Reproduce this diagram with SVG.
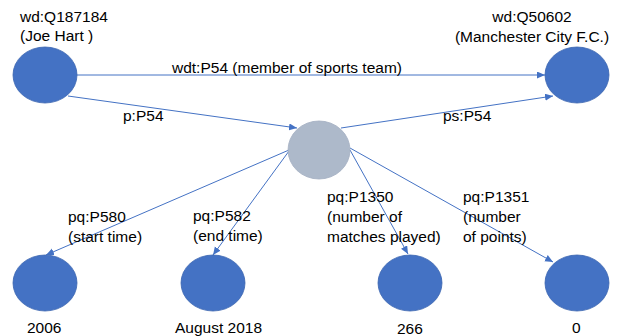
<svg xmlns="http://www.w3.org/2000/svg" width="618" height="336" viewBox="0 0 618 336">
<style>
text{font-family:"Liberation Sans",Arial,sans-serif;font-size:15.5px;fill:#000}
.n{fill:#4472c4;stroke:#3a65b0;stroke-width:0.8}
.g{fill:#adb9ca;stroke:#a3afc2;stroke-width:0.8}
.e{stroke:#4472c4;stroke-width:1;fill:none;marker-end:url(#ah)}
</style>
<defs>
<marker id="ah" markerUnits="userSpaceOnUse" markerWidth="9" markerHeight="8" refX="8" refY="3.5" orient="auto">
<path d="M0,0 L8,3.5 L0,7 z" fill="#4472c4"/>
</marker>
</defs>
<rect width="618" height="336" fill="#fff"/>
<g id="connectors">
<line class="e" x1="77" y1="75" x2="545" y2="75"/>
<line class="e" x1="68" y1="96" x2="297" y2="128"/>
<line class="e" x1="341" y1="128" x2="553" y2="96"/>
<line class="e" x1="289" y1="150" x2="46" y2="255"/>
<line class="e" x1="289" y1="151" x2="213" y2="255"/>
<line class="e" x1="350" y1="150" x2="408" y2="254"/>
<line class="e" x1="350" y1="148" x2="553" y2="262"/>
<text x="172" y="73">wdt:P54 (member of sports team)</text>
<text x="123" y="121">p:P54</text>
<text x="443" y="121">ps:P54</text>
<text x="68" y="222">pq:P580</text>
<text x="68" y="242">(start time)</text>
<text x="193" y="221">pq:P582</text>
<text x="193" y="241">(end time)</text>
<text x="327" y="202">pq:P1350</text>
<text x="327" y="222">(number of</text>
<text x="327" y="242">matches played)</text>
<text x="463" y="202">pq:P1351</text>
<text x="463" y="222">(number</text>
<text x="463" y="242">of points)</text>
</g>
<g id="joe_hart">
<ellipse class="n" cx="45" cy="75" rx="32" ry="28"/>
<text x="20" y="22">wd:Q187184</text>
<text x="20" y="41">(Joe Hart )</text>
</g>
<g id="man_city">
<ellipse class="n" cx="577" cy="75" rx="32" ry="28"/>
<text x="532" y="22" text-anchor="middle">wd:Q50602</text>
<text x="532" y="42" text-anchor="middle">(Manchester City F.C.)</text>
</g>
<g id="statement">
<ellipse class="g" cx="319" cy="150" rx="31" ry="29"/>
</g>
<g id="start_time">
<ellipse class="n" cx="45" cy="283" rx="32" ry="28"/>
<text x="27" y="333">2006</text>
</g>
<g id="end_time">
<ellipse class="n" cx="213" cy="283" rx="32" ry="28"/>
<text x="175" y="333">August 2018</text>
</g>
<g id="matches">
<ellipse class="n" cx="410" cy="283" rx="32" ry="28"/>
<text x="397" y="334">266</text>
</g>
<g id="points">
<ellipse class="n" cx="577" cy="283" rx="32" ry="28"/>
<text x="572" y="333">0</text>
</g>
</svg>
